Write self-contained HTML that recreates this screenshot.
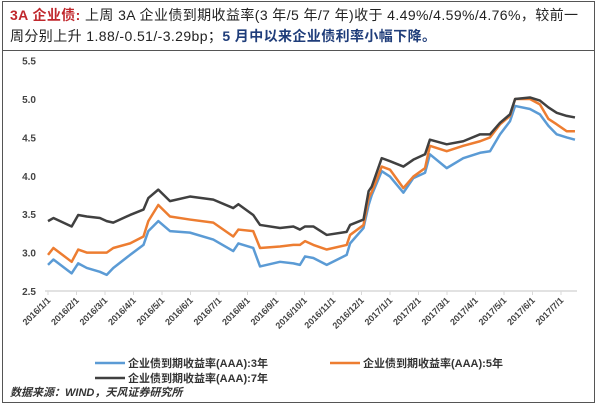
<!DOCTYPE html>
<html><head><meta charset="utf-8"><style>
body{margin:0;background:#fff;width:600px;height:408px;overflow:hidden;font-family:"Liberation Sans","Noto Sans CJK SC",sans-serif}
#frame{position:absolute;left:2px;top:1px;width:593px;height:402px;border:1.5px solid #555;box-sizing:border-box}
#hdr{position:absolute;left:2px;top:1px;width:593px;height:50px;border-bottom:1.5px solid #555;box-sizing:border-box;font-size:14px;line-height:21px;padding:4px 8px;color:#222;letter-spacing:0.4px}
.red{color:#c0282d;font-weight:bold}.blue{color:#1f3d7a;font-weight:bold}
</style></head><body>
<div id="frame"></div>
<div id="hdr"><span class="red">3A 企业债:</span> 上周 3A 企业债到期收益率(3 年/5 年/7 年)收于 4.49%/4.59%/4.76%，较前一<br>周分别上升 1.88/-0.51/-3.29bp；<span class="blue">5 月中以来企业债利率小幅下降。</span></div>
<svg id="chart" width="600" height="408" style="position:absolute;left:0;top:0"></svg>
<script>
const months=[0,0.19,0.83,1.06,1.36,1.82,2.06,2.29,2.88,3.35,3.52,3.87,4.28,4.98,5.80,6.5,6.68,7.2,7.44,8.14,8.61,8.84,9.02,9.31,9.78,10.48,10.6,11.07,11.25,11.36,11.71,12.0,12.47,12.82,13.23,13.4,13.99,14.57,15.16,15.51,15.86,16.21,16.39,16.91,17.26,17.56,17.85,18.2,18.49];
const y7=[3.41,3.45,3.34,3.49,3.47,3.45,3.41,3.39,3.49,3.56,3.71,3.82,3.67,3.73,3.69,3.58,3.63,3.49,3.36,3.32,3.34,3.30,3.34,3.34,3.23,3.27,3.36,3.43,3.80,3.86,4.23,4.19,4.12,4.21,4.28,4.47,4.41,4.45,4.54,4.54,4.69,4.80,5.00,5.02,4.98,4.89,4.82,4.78,4.76];
const y5=[2.97,3.06,2.88,3.04,3.00,3.00,3.00,3.06,3.12,3.21,3.41,3.62,3.47,3.43,3.39,3.21,3.30,3.28,3.06,3.08,3.10,3.10,3.15,3.10,3.04,3.10,3.23,3.36,3.71,3.79,4.12,4.08,3.84,3.99,4.10,4.39,4.32,4.39,4.45,4.50,4.67,4.78,5.00,5.00,4.93,4.74,4.67,4.58,4.58];
const y3=[2.84,2.91,2.73,2.86,2.80,2.75,2.71,2.80,2.97,3.10,3.28,3.41,3.28,3.26,3.17,3.02,3.12,3.06,2.82,2.88,2.86,2.84,2.95,2.93,2.84,2.97,3.12,3.32,3.62,3.75,4.06,3.99,3.78,3.97,4.04,4.28,4.10,4.23,4.30,4.32,4.54,4.71,4.91,4.87,4.80,4.65,4.54,4.50,4.47];
const yTicks=[2.5,3.0,3.5,4.0,4.5,5.0,5.5];
const xTicks=["2016/1/1","2016/2/1","2016/3/1","2016/4/1","2016/5/1","2016/6/1","2016/7/1","2016/8/1","2016/9/1","2016/10/1","2016/11/1","2016/12/1","2017/1/1","2017/2/1","2017/3/1","2017/4/1","2017/5/1","2017/6/1","2017/7/1"];
const NS="http://www.w3.org/2000/svg",svg=document.getElementById('chart');
const X=m=>48+m*28.5, Y=v=>291-(v-2.5)*76.8;
function mk(t,a){const e=document.createElementNS(NS,t);for(const k in a)e.setAttribute(k,a[k]);svg.appendChild(e);return e;}
let ax=mk('line',{x1:45,x2:577,y1:Y(2.5),y2:Y(2.5),stroke:'#d9d9d9','stroke-width':1.5});


yTicks.forEach(v=>{const t=mk('text',{x:36,y:Y(v)+4,'text-anchor':'end','font-size':10,'font-weight':'bold',fill:'#444'});t.textContent=v.toFixed(1);

});
xTicks.forEach((s,i)=>{const x=X(i);mk('line',{x1:x,x2:x,y1:Y(2.5),y2:Y(2.5)+4,stroke:'#d9d9d9'});
const t=mk('text',{x:x+3,y:Y(2.5)+10,'text-anchor':'end','font-size':9,'font-weight':'bold',fill:'#444',transform:`rotate(-45 ${x+3} ${Y(2.5)+10})`});t.textContent=s;

});
function line(vals,col,name){const p=mk('polyline',{points:vals.map((v,i)=>X(months[i])+','+Y(v)).join(' '),fill:'none',stroke:col,'stroke-width':2.5,'stroke-linejoin':'round'});

}
line(y3,'#5b9bd5','series-3y');line(y5,'#ed7d31','series-5y');line(y7,'#404040','series-7y');
const leg=[[95,363,'#5b9bd5','企业债到期收益率(AAA):3年'],[330,363,'#ed7d31','企业债到期收益率(AAA):5年'],[95,378,'#404040','企业债到期收益率(AAA):7年']];
leg.forEach(l=>{mk('line',{x1:l[0],x2:l[0]+30,y1:l[1],y2:l[1],stroke:l[2],'stroke-width':2.5});
const t=mk('text',{x:l[0]+33,y:l[1]+4,'font-size':11,'font-weight':'bold',fill:'#333'});t.textContent=l[3];

});
const src=mk('text',{x:10,y:396,'font-size':11,'font-weight':'bold','font-style':'italic',fill:'#333'});src.textContent='数据来源：WIND，天风证券研究所';


</script>
</body></html>
